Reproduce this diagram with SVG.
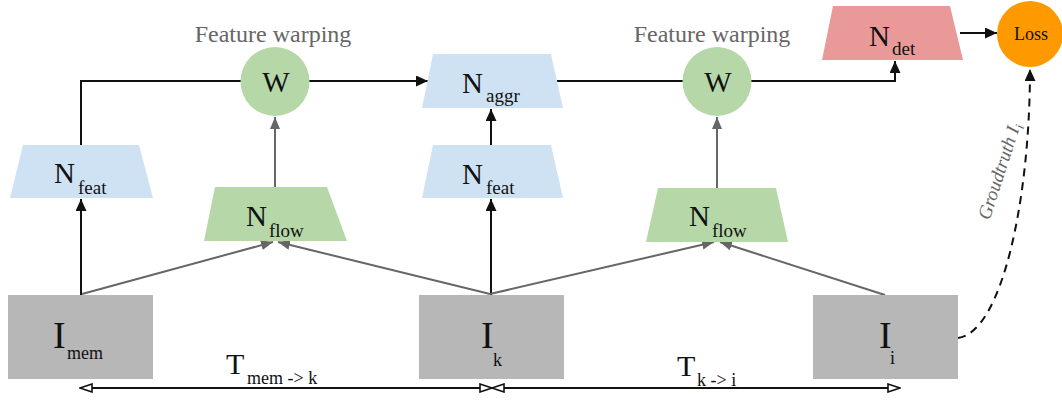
<svg xmlns="http://www.w3.org/2000/svg" width="1062" height="403" viewBox="0 0 1062 403">
  <style>
    .lbl { font-family: "Liberation Serif", "DejaVu Serif", serif; fill: #111; }
    .cap { font-family: "Liberation Serif", "DejaVu Serif", serif; fill: #666; font-size: 24px; }
    .img { fill: #b7b7b7; }
    .blue { fill: #cfe2f3; }
    .green { fill: #b6d7a8; }
    .pink { fill: #ea9999; }
    .feat { fill: none; stroke: #111; stroke-width: 2; }
    .flow { fill: none; stroke: #666; stroke-width: 2; }
    .span { fill: none; stroke: #111; stroke-width: 2; }
  </style>
  <defs>
    <marker id="arrowBlack" markerUnits="userSpaceOnUse" viewBox="0 0 12 11" refX="12" refY="5.5" markerWidth="12" markerHeight="11" orient="auto">
      <path d="M0,0 L12,5.5 L0,11 z" fill="#111"/>
    </marker>
    <marker id="arrowGray" markerUnits="userSpaceOnUse" viewBox="0 0 12 10" refX="12" refY="5" markerWidth="12" markerHeight="10" orient="auto">
      <path d="M0,0 L12,5 L0,10 z" fill="#666"/>
    </marker>
    <marker id="arrowOpen" markerUnits="userSpaceOnUse" viewBox="-1 -1 14 10" refX="12" refY="4" markerWidth="14" markerHeight="10" orient="auto-start-reverse">
      <path d="M0,0 L12,4 L0,8 z" fill="#fff" stroke="#111" stroke-width="1.6"/>
    </marker>
  </defs>

  <!-- connectors -->
  <g id="connectors">
    <!-- feature path -->
    <path class="feat" d="M81,295 V199" marker-end="url(#arrowBlack)"/>
    <path class="feat" d="M81,145 V81 H245"/>
    <path class="feat" d="M305,81 H428" marker-end="url(#arrowBlack)"/>
    <path class="feat" d="M491,295 V199" marker-end="url(#arrowBlack)"/>
    <path class="feat" d="M491,145 V109" marker-end="url(#arrowBlack)"/>
    <path class="feat" d="M557,81 H690"/>
    <path class="feat" d="M745,81 H895 V61" marker-end="url(#arrowBlack)"/>
    <path class="feat" d="M960,33 H997" marker-end="url(#arrowBlack)"/>
    <!-- flow path -->
    <path class="flow" d="M275,187 V117" marker-end="url(#arrowGray)"/>
    <path class="flow" d="M717,188 V117" marker-end="url(#arrowGray)"/>
    <path class="flow" d="M82,294 L273,242" marker-end="url(#arrowGray)"/>
    <path class="flow" d="M490,294 L278,242" marker-end="url(#arrowGray)"/>
    <path class="flow" d="M490,294 L714,242" marker-end="url(#arrowGray)"/>
    <path class="flow" d="M885,295 L720,242" marker-end="url(#arrowGray)"/>
    <!-- ground truth -->
    <path d="M958,338 C1002,332 1030,200 1030,69" fill="none" stroke="#111" stroke-width="2" stroke-dasharray="8,6" marker-end="url(#arrowBlack)"/>
    <text class="lbl" transform="translate(1005,173) rotate(-72)" text-anchor="middle" font-size="19" font-style="italic" style="fill:#666">Groudtruth I<tspan font-size="13" dy="4">i</tspan></text>
    <!-- time spans -->
    <path class="span" d="M80,388 H492" marker-start="url(#arrowOpen)" marker-end="url(#arrowOpen)"/>
    <path class="span" d="M492,388 H900" marker-start="url(#arrowOpen)" marker-end="url(#arrowOpen)"/>
    <text class="lbl"><tspan x="226" y="374" font-size="30">T</tspan><tspan x="247" y="384" font-size="18">mem -&gt; k</tspan></text>
    <text class="lbl"><tspan x="677" y="376" font-size="30">T</tspan><tspan x="697" y="386" font-size="18">k -&gt; i</tspan></text>
  </g>

  <!-- input frames -->
  <g id="I_mem">
    <rect class="img" x="8" y="295" width="145" height="84"/>
    <text class="lbl"><tspan x="53" y="348" font-size="38">I</tspan><tspan x="67" y="359" font-size="18">mem</tspan></text>
  </g>
  <g id="I_k">
    <rect class="img" x="419" y="295" width="145" height="84"/>
    <text class="lbl"><tspan x="481" y="348" font-size="38">I</tspan><tspan x="493" y="366" font-size="18">k</tspan></text>
  </g>
  <g id="I_i">
    <rect class="img" x="813" y="295" width="145" height="84"/>
    <text class="lbl"><tspan x="879" y="348" font-size="38">I</tspan><tspan x="890" y="364" font-size="18">i</tspan></text>
  </g>

  <!-- feature networks -->
  <g id="N_feat_mem">
    <polygon class="blue" points="23,145 139,145 153,198 10,198"/>
    <text class="lbl"><tspan x="54" y="183" font-size="29">N</tspan><tspan x="78" y="194" font-size="19">feat</tspan></text>
  </g>
  <g id="N_feat_k">
    <polygon class="blue" points="433,145 551,145 563,198 422,198"/>
    <text class="lbl"><tspan x="462" y="184" font-size="29">N</tspan><tspan x="486" y="194" font-size="19">feat</tspan></text>
  </g>
  <g id="N_aggr">
    <polygon class="blue" points="433,54 551,54 563,108 422,108"/>
    <text class="lbl"><tspan x="462" y="93" font-size="29">N</tspan><tspan x="486" y="102" font-size="19">aggr</tspan></text>
  </g>

  <!-- flow networks -->
  <g id="N_flow_mem">
    <polygon class="green" points="215,187 327,187 347,241 204,241"/>
    <text class="lbl"><tspan x="246" y="226" font-size="29">N</tspan><tspan x="269" y="237" font-size="19">flow</tspan></text>
  </g>
  <g id="N_flow_i">
    <polygon class="green" points="658,188 776,188 788,242 646,242"/>
    <text class="lbl"><tspan x="689" y="226" font-size="29">N</tspan><tspan x="712" y="237" font-size="19">flow</tspan></text>
  </g>

  <!-- warping -->
  <g id="W_mem">
    <text class="cap" x="273" y="42" text-anchor="middle">Feature warping</text>
    <circle class="green" cx="275" cy="81.5" r="34.5"/>
    <text class="lbl" x="276" y="92" text-anchor="middle" font-size="29">W</text>
  </g>
  <g id="W_i">
    <text class="cap" x="712" y="42" text-anchor="middle">Feature warping</text>
    <circle class="green" cx="717" cy="81.5" r="34.5"/>
    <text class="lbl" x="718" y="92" text-anchor="middle" font-size="29">W</text>
  </g>

  <!-- detection and loss -->
  <g id="N_det">
    <polygon class="pink" points="833,6 950,6 963,60 822,60"/>
    <text class="lbl"><tspan x="869" y="46" font-size="29">N</tspan><tspan x="892" y="55" font-size="19">det</tspan></text>
  </g>
  <g id="Loss">
    <circle cx="1030" cy="34" r="33" fill="#ff9900"/>
    <text class="lbl" x="1031" y="40" text-anchor="middle" font-size="18">Loss</text>
  </g>
</svg>
